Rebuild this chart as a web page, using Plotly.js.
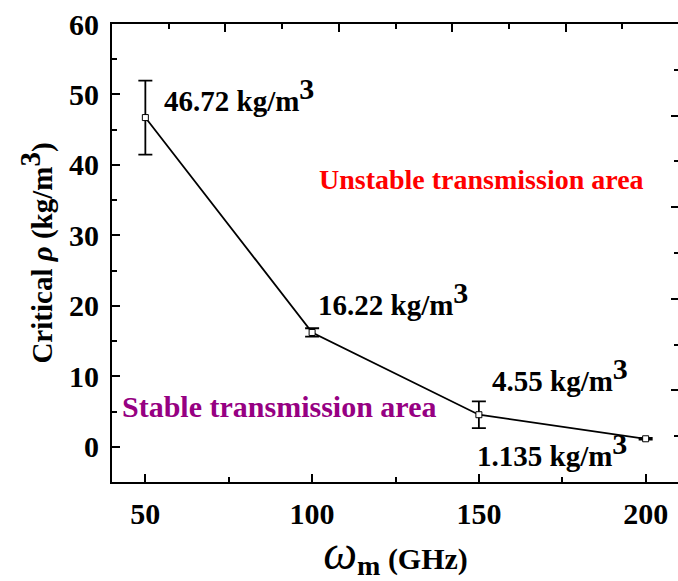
<!DOCTYPE html>
<html>
<head>
<meta charset="utf-8">
<script src="https://cdn.plot.ly/plotly-3.0.1.min.js"></script>
<style>html,body{margin:0;padding:0;overflow:hidden;background:#fff;}</style>
</head>
<body>
<div id="chart" style="width:680px;height:581px;"></div>
<script>
// Data
const omega = [50, 100, 150, 200];               // ω_m (GHz)
const rhoCritical = [46.72, 16.22, 4.55, 1.135]; // critical ρ (kg/m^3)
const rhoError = [5.25, 0.6, 1.9, 0.12];         // error bar half-widths
const valueLabels = ['46.72', '16.22', '4.55', '1.135'];

const FONT = 'Liberation Serif, Times New Roman, serif';
const sup3 = '<sup><span style="font-size:30px">3</span></sup>';

const trace = {
  x: omega, y: rhoCritical, type: 'scatter', mode: 'lines+markers',
  line: {color: '#000', width: 1.8},
  marker: {symbol: 'square', size: 6, color: '#fff', line: {color: '#000', width: 1}},
  error_y: {type: 'data', array: rhoError, visible: true, color: '#000', thickness: 1.8, width: 7},
  showlegend: false, hoverinfo: 'skip'
};
// dummy trace to activate top/right axes
const ghost = {x: [null], y: [null], xaxis: 'x2', yaxis: 'y2', type: 'scatter', showlegend: false, hoverinfo: 'skip'};

// label placements (layout, not data)
const labelPos = [
  {x: 55.0, y: 46.5},
  {x: 101.2, y: 17.55},
  {x: 153.3, y: 6.75},
  {x: 148.8, y: -3.9}
];

const annotations = valueLabels.map((v, i) => ({
  x: labelPos[i].x, y: labelPos[i].y, xref: 'x', yref: 'y',
  xanchor: 'left', yanchor: 'bottom', showarrow: false,
  text: '<b>' + v + ' kg/m' + sup3 + '</b>',
  font: {family: FONT, size: 29, color: '#000'}
}));
annotations.push({
  x: 101.4, y: 35.45, xref: 'x', yref: 'y', xanchor: 'left', yanchor: 'bottom', showarrow: false,
  text: '<b>Unstable transmission area</b>', font: {family: FONT, size: 28, color: '#ff0000'}
});
annotations.push({
  x: 42.3, y: 3.1, xref: 'x', yref: 'y', xanchor: 'left', yanchor: 'bottom', showarrow: false,
  text: '<b>Stable transmission area</b>', font: {family: FONT, size: 30, color: '#960082'}
});

const layout = {
  width: 680, height: 581,
  margin: {l: 112, r: 1, t: 24, b: 99},
  paper_bgcolor: '#fff', plot_bgcolor: '#fff',
  font: {family: FONT, color: '#000'},
  xaxis: {
    range: [40, 210], tickmode: 'linear', tick0: 50, dtick: 50,
    ticks: 'inside', ticklen: 8, tickwidth: 2, tickcolor: '#000',
    minor: {dtick: 25, tick0: 25, ticks: 'inside', ticklen: 5, tickwidth: 2, tickcolor: '#000'},
    showline: true, linecolor: '#000', linewidth: 2, showgrid: false, zeroline: false,
    tickfont: {family: FONT, size: 30, weight: 'bold', color: '#000'},
    ticklabelstandoff: 4,
    title: {text: '<i><span style="font-size:48px">ω</span></i><b><sub><span style="font-size:28px">m</span></sub></b><b> (GHz)</b>',
            font: {family: FONT, size: 30, color: '#000'}, standoff: 13}
  },
  yaxis: {
    range: [-5, 60], tickmode: 'linear', tick0: 0, dtick: 10,
    ticks: 'inside', ticklen: 8, tickwidth: 2, tickcolor: '#000',
    minor: {dtick: 5, tick0: 5, ticks: 'inside', ticklen: 5, tickwidth: 2, tickcolor: '#000'},
    showline: true, linecolor: '#000', linewidth: 2, showgrid: false, zeroline: false,
    tickfont: {family: FONT, size: 30, weight: 'bold', color: '#000'},
    ticklabelstandoff: 5,
    title: {text: '<b>Critical <i>ρ</i> (kg/m<sup><span style="font-size:29px">3</span></sup>)</b>',
            font: {family: FONT, size: 29, color: '#000'}, standoff: 8}
  },
  xaxis2: {
    overlaying: 'x', side: 'top', range: [40, 210], tickmode: 'linear', tick0: 40, dtick: 34,
    ticks: 'inside', ticklen: 8, tickwidth: 2, tickcolor: '#000', showticklabels: false,
    minor: {dtick: 17, tick0: 40, ticks: 'inside', ticklen: 5, tickwidth: 2, tickcolor: '#000'},
    showline: true, linecolor: '#000', linewidth: 2, showgrid: false, zeroline: false
  },
  yaxis2: {
    overlaying: 'y', side: 'right', range: [-5, 60], tickmode: 'linear', tick0: -5, dtick: 13,
    ticks: 'inside', ticklen: 8, tickwidth: 2, tickcolor: '#000', showticklabels: false,
    minor: {dtick: 6.5, tick0: -5, ticks: 'inside', ticklen: 5, tickwidth: 2, tickcolor: '#000'},
    showline: false, showgrid: false, zeroline: false
  },
  annotations: annotations,
  showlegend: false
};

Plotly.newPlot('chart', [trace, ghost], layout, {staticPlot: true, displayModeBar: false});
</script>
</body>
</html>
